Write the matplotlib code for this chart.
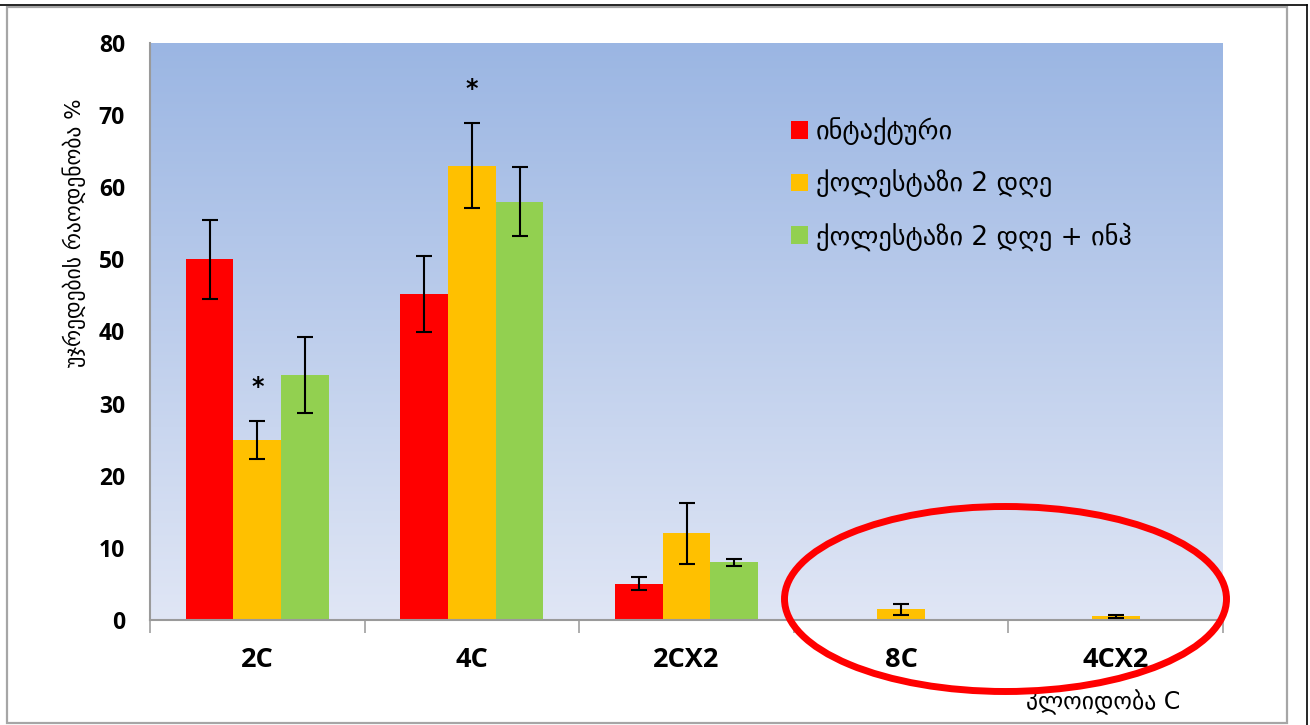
import numpy as np
import matplotlib
matplotlib.use("Agg")
import matplotlib.pyplot as plt
from matplotlib.patches import Ellipse, Rectangle
from matplotlib.lines import Line2D

# Ploidy classes and cell share (%) per group
categories = ["2C", "4C", "2CX2", "8C", "4CX2"]
series_names = ["ინტაქტური", "ქოლესტაზი 2 დღე", "ქოლესტაზი 2 დღე + ინჰ"]
intact = [50.0, 45.2, 5.0, np.nan, np.nan]
intact_err = [5.5, 5.3, 0.9, np.nan, np.nan]
chol2 = [25.0, 63.0, 12.0, 1.5, 0.5]
chol2_err = [2.65, 5.9, 4.2, 0.75, 0.2]
chol2_inh = [34.0, 58.0, 8.0, np.nan, np.nan]
chol2_inh_err = [5.3, 4.75, 0.5, np.nan, np.nan]
significant = [(0, 1), (1, 1)]  # (category index, series index) marked with *
y_ticks = [0, 10, 20, 30, 40, 50, 60, 70, 80]
y_label = "უჯრედების რაოდენობა %"
x_label = "პლოიდობა C"

colors = ["#FF0000", "#FFC000", "#92D050"]
W, H, DPI = 1310, 725, 100
fig = plt.figure(figsize=(W / DPI, H / DPI), dpi=DPI)
fig.patch.set_facecolor("white")


def fx(px):
    return px / W


def fy(py):
    return 1 - py / H


ax = fig.add_axes([fx(150), fy(620), fx(1223) - fx(150), fy(43) - fy(620)])
ax.set_xlim(-0.5, len(categories) - 0.5)
ax.set_ylim(0, 80)

# vertical gradient background of the plot area
top_rgb = np.array([155, 182, 227]) / 255
bot_rgb = np.array([224, 230, 245]) / 255
t = np.linspace(0, 1, 256)[:, None]
grad = (top_rgb[None, :] * (1 - t) + bot_rgb[None, :] * t)[:, None, :]
ax.imshow(grad, extent=[0, 1, 0, 1], transform=ax.transAxes, aspect="auto",
          zorder=0, interpolation="bilinear")

data = [(intact, intact_err), (chol2, chol2_err), (chol2_inh, chol2_inh_err)]
x = np.arange(len(categories))
bw = 0.222
handles = []
for i, ((vals, errs), name, c) in enumerate(zip(data, series_names, colors)):
    vals = np.array(vals, dtype=float)
    errs = np.array(errs, dtype=float)
    m = np.isfinite(vals)
    xs = x[m] + (i - 1) * bw
    ax.bar(xs, vals[m], width=bw, color=c, zorder=2, linewidth=0)
    ax.errorbar(xs, vals[m], yerr=errs[m], fmt="none", ecolor="black",
                elinewidth=1.5, capsize=6, capthick=1.5, zorder=3)
    handles.append(Rectangle((0, 0), 1, 1, facecolor=c, edgecolor="none", label=name))

# significance stars above the error bars
for ci, si in significant:
    vals, errs = data[si]
    ax.text(ci + (si - 1) * bw, vals[ci] + errs[ci] + 3.0, "*", ha="center",
            va="bottom", fontsize=17, fontweight="bold", fontfamily="DejaVu Sans")

tick_font = dict(fontfamily="Open Sans", fontweight="bold")
ax.set_yticks(y_ticks)
ax.set_yticklabels([str(v) for v in y_ticks], fontsize=16.5, **tick_font)
ax.tick_params(axis="y", length=0, pad=18)
ax.set_xticks(np.arange(len(categories) + 1) - 0.5, minor=False)
ax.set_xticklabels([])
ax.tick_params(axis="x", length=9, color="#A0A0A0", width=1.2)
for i, cat in enumerate(categories):
    ax.text(i, -3.7, cat, ha="center", va="top", fontsize=19.5,
            transform=ax.transData, clip_on=False, **tick_font)

for s in ["top", "right"]:
    ax.spines[s].set_visible(False)
for s in ["left", "bottom"]:
    ax.spines[s].set_color("#9A9A9A")
    ax.spines[s].set_linewidth(1.5)

fig.text(fx(74), fy(233), y_label, rotation=90, ha="center", va="center",
         fontsize=15.5, fontfamily="DejaVu Sans")
fig.text(fx(1180), fy(702), x_label, ha="right", va="center", fontsize=17,
         fontfamily="DejaVu Sans")

leg = ax.legend(handles=handles, loc="upper left",
                bbox_to_anchor=(fx(780), fy(107)), bbox_transform=fig.transFigure,
                frameon=False, fontsize=19, handlelength=0.65, handleheight=0.65,
                handletextpad=0.3, labelspacing=0.92, borderaxespad=0)
for txt in leg.get_texts():
    txt.set_fontfamily("DejaVu Sans")

# highlight ring around the rare ploidy classes
ring = Ellipse((fx(1005.5), fy(599)), fx(442), 185 / H, transform=fig.transFigure,
               fill=False, edgecolor="#FF0000", linewidth=5.0, zorder=10)
fig.add_artist(ring)

# chart frame
fig.add_artist(Rectangle((fx(7), fy(723)), fx(1287) - fx(7), fy(7) - fy(723),
                         transform=fig.transFigure, fill=False,
                         edgecolor="#A6A6A6", linewidth=1.6))
fig.add_artist(Line2D([0, fx(1307)], [fy(5), fy(5)], transform=fig.transFigure,
                      color="black", linewidth=1.2))
fig.add_artist(Line2D([fx(1307), fx(1307)], [fy(5), 0], transform=fig.transFigure,
                      color="black", linewidth=1.2))

fig.savefig("out.png", dpi=DPI, facecolor="white")
